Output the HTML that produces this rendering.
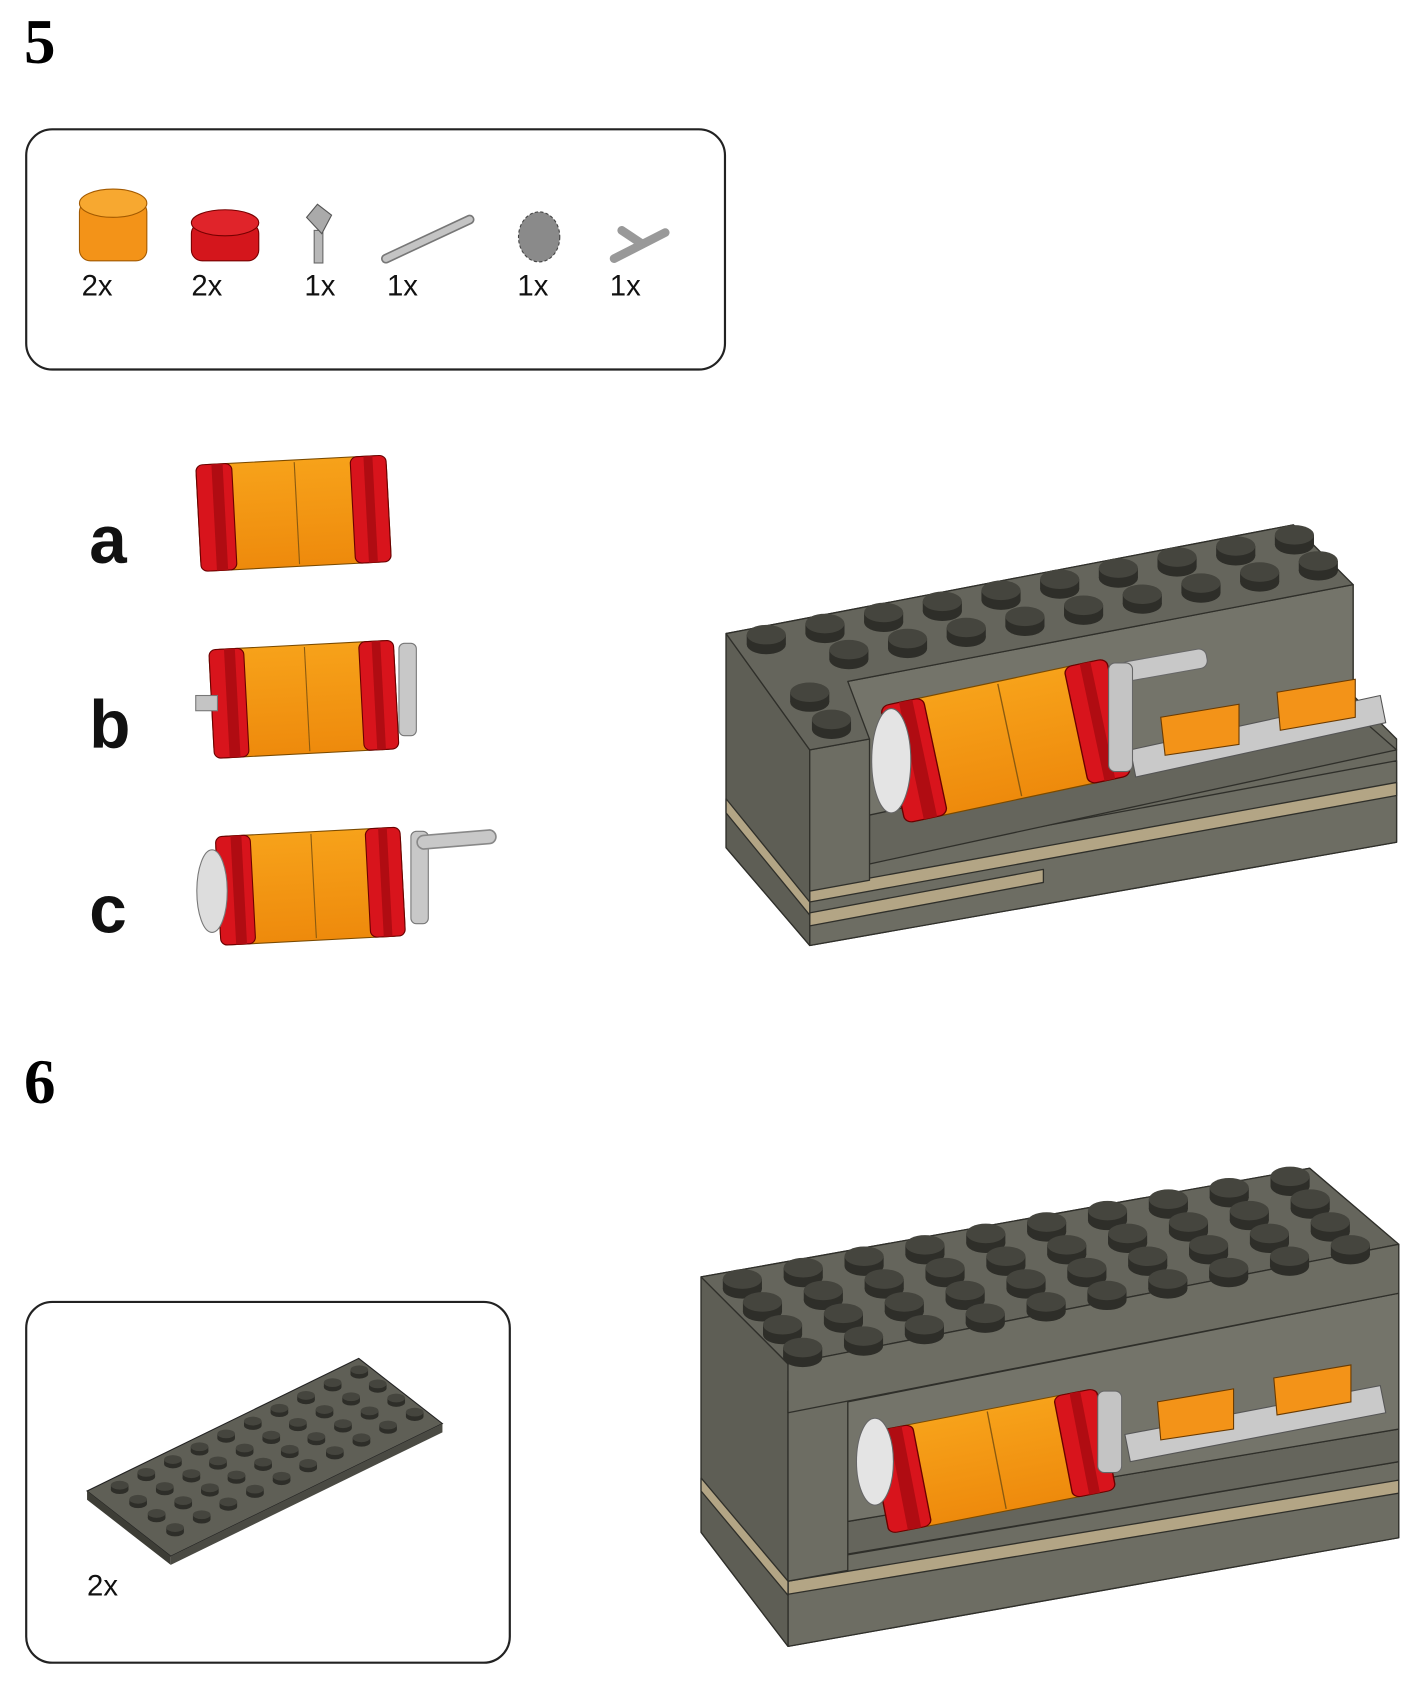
<!DOCTYPE html>
<html><head><meta charset="utf-8"><style>
html,body{margin:0;padding:0;background:#fff;}
svg{display:block}
</style></head><body>
<svg id="s" width="1413" height="1704" viewBox="0 0 1300 1568" xmlns="http://www.w3.org/2000/svg" font-family="Liberation Sans, sans-serif">
<defs>
<linearGradient id="org" x1="0" y1="0" x2="0" y2="1"><stop offset="0" stop-color="#f7a21a"/><stop offset="1" stop-color="#ee8a0c"/></linearGradient>
<g id="stud"><ellipse cx="0" cy="6" rx="18" ry="9" fill="#2e2e29"/><rect x="-18" y="-3" width="36" height="9" fill="#2e2e29"/><ellipse cx="0" cy="-3" rx="18" ry="9" fill="#45453e"/></g>
<g id="cyl">
<rect x="0" y="0" width="170" height="100" rx="10" fill="url(#org)" stroke="#7a4a00" stroke-width="1"/>
<line x1="88" y1="2" x2="88" y2="98" stroke="#8a5a10"/>
<rect x="0" y="0" width="32" height="100" rx="6" fill="#d8141c" stroke="#6a0000"/>
<rect x="138" y="0" width="32" height="100" rx="6" fill="#d8141c" stroke="#6a0000"/>
<rect x="14" y="0" width="10" height="100" fill="#b00c12"/>
<rect x="150" y="0" width="8" height="100" fill="#b00c12"/>
</g>
</defs>
<text x="22" y="58" font-family="Liberation Serif, serif" font-weight="bold" font-size="58">5</text>
<text x="22" y="1015" font-family="Liberation Serif, serif" font-weight="bold" font-size="58">6</text>

<rect x="24" y="119" width="643" height="221" rx="24" fill="none" stroke="#222" stroke-width="2"/>
<rect x="73" y="185" width="62" height="55" rx="10" fill="#f39318" stroke="#a35a00"/>
<ellipse cx="104" cy="187" rx="31" ry="13" fill="#f7a830" stroke="#a35a00"/>
<rect x="176" y="205" width="62" height="35" rx="10" fill="#d4161c" stroke="#700"/>
<ellipse cx="207" cy="205" rx="31" ry="12" fill="#e0242a" stroke="#700"/>
<rect x="289" y="212" width="8" height="30" fill="#b8b8b8" stroke="#666"/>
<path d="M282 200 L292 188 L305 198 L296 215 Z" fill="#aaa" stroke="#555"/>
<line x1="355" y1="238" x2="432" y2="202" stroke="#777" stroke-width="9" stroke-linecap="round"/>
<line x1="355" y1="238" x2="432" y2="202" stroke="#c4c4c4" stroke-width="6" stroke-linecap="round"/>
<ellipse cx="496" cy="218" rx="19" ry="23" fill="#8a8a8a" stroke="#444" stroke-dasharray="3 2"/>
<line x1="565" y1="238" x2="612" y2="214" stroke="#999" stroke-width="8" stroke-linecap="round"/>
<line x1="572" y1="212" x2="590" y2="224" stroke="#999" stroke-width="8" stroke-linecap="round"/>
<g font-size="27" fill="#111">
<text x="75" y="272">2x</text><text x="176" y="272">2x</text><text x="280" y="272">1x</text><text x="356" y="272">1x</text><text x="476" y="272">1x</text><text x="561" y="272">1x</text></g>

<g font-size="62" font-weight="bold" fill="#111"><text x="82" y="518">a</text><text x="82" y="688">b</text><text x="82" y="858">c</text></g>
<g transform="translate(180,428) rotate(-3)"><use href="#cyl" transform="scale(1.03,0.98)"/></g>
<g transform="translate(192,598) rotate(-3)"><use href="#cyl"/></g>
<rect x="180" y="640" width="20" height="14" fill="#c4c4c4" stroke="#777"/>
<rect x="367" y="592" width="16" height="85" rx="5" fill="#c8c8c8" stroke="#777"/>
<g transform="translate(198,770) rotate(-3)"><use href="#cyl"/></g>
<ellipse cx="195" cy="820" rx="14" ry="38" fill="#ddd" stroke="#777"/>
<rect x="378" y="765" width="16" height="85" rx="5" fill="#c8c8c8" stroke="#777"/>
<line x1="390" y1="775" x2="450" y2="770" stroke="#888" stroke-width="14" stroke-linecap="round"/>
<line x1="390" y1="775" x2="450" y2="770" stroke="#c8c8c8" stroke-width="11" stroke-linecap="round"/>

<!-- Model 1 -->
<g stroke="#2f2f2a" stroke-width="1.2" stroke-linejoin="round">
<polygon points="668,583 1190,483 1245,538 1245,640 1285,680 1285,775 745,870 668,780" fill="#6a6a60"/>
<polygon points="745,800 1285,700 1285,775 745,870" fill="#6d6d63"/>
<polygon points="745,818 1285,720 1285,732 745,830" fill="#b3a585"/>
<polygon points="745,840 960,800 960,812 745,852" fill="#b3a585"/>
<polygon points="800,745 1245,655 1285,690 800,795" fill="#65655c"/>
<polygon points="780,627 1245,538 1245,655 800,750" fill="#74746a"/>
<polygon points="668,583 745,690 745,870 668,780" fill="#5e5e55"/>
<polygon points="668,735 745,830 745,842 668,748" fill="#b3a585"/>
<polygon points="745,690 800,680 800,810 745,820" fill="#6d6d63"/>
<polygon points="668,583 1190,483 1245,538 780,627 800,680 745,690" fill="#65655c"/>
</g>
<g id="st1"></g>
<polygon points="1040,690 1270,640 1275,665 1045,715" fill="#c9c9c9" stroke="#555"/>
<polygon points="1068,660 1140,648 1140,685 1072,695" fill="#f39318" stroke="#6a3a00"/>
<polygon points="1175,637 1247,625 1247,660 1178,672" fill="#f39318" stroke="#6a3a00"/>
<g transform="translate(1030,610) rotate(-10)"><rect x="0" y="0" width="80" height="18" rx="7" fill="#c8c8c8" stroke="#666"/></g>
<g transform="translate(810,650) rotate(-12)"><use href="#cyl" transform="scale(1.25,1.1)"/></g>
<ellipse cx="820" cy="700" rx="18" ry="48" fill="#e4e4e4" stroke="#666"/>
<rect x="1020" y="610" width="22" height="100" rx="6" fill="#c4c4c4" stroke="#666"/>

<!-- Box 2 -->
<rect x="24" y="1198" width="445" height="332" rx="24" fill="none" stroke="#222" stroke-width="2"/>
<polygon points="80,1372 330,1250 407,1310 157,1432" fill="#5f5f56" stroke="#222"/>
<polygon points="80,1372 157,1432 157,1440 80,1380" fill="#3d3d36"/>
<polygon points="157,1432 407,1310 407,1318 157,1440" fill="#4a4a43"/>
<g id="st3"></g>
<text x="80" y="1468" font-size="27" fill="#111">2x</text>

<!-- Model 2 -->
<g stroke="#2f2f2a" stroke-width="1.2" stroke-linejoin="round">
<polygon points="645,1175 1205,1075 1287,1145 1287,1415 725,1515 645,1410" fill="#6a6a60"/>
<polygon points="725,1440 1287,1345 1287,1415 725,1515" fill="#6d6d63"/>
<polygon points="725,1455 1287,1362 1287,1374 725,1467" fill="#b3a585"/>
<polygon points="780,1400 1287,1315 1287,1345 780,1430" fill="#65655c"/>
<polygon points="780,1290 1287,1190 1287,1315 780,1400" fill="#74746a"/>
<polygon points="645,1175 725,1255 725,1515 645,1410" fill="#5e5e55"/>
<polygon points="645,1360 725,1455 725,1468 645,1372" fill="#b3a585"/>
<polygon points="725,1280 780,1270 780,1445 725,1455" fill="#6d6d63"/>
<polygon points="645,1175 1205,1075 1287,1145 725,1255" fill="#65655c"/>
<polygon points="725,1255 1287,1145 1287,1190 725,1300" fill="#6d6d63"/>
</g>
<g id="st2"></g>
<polygon points="1035,1320 1270,1275 1275,1300 1040,1345" fill="#c9c9c9" stroke="#555"/>
<polygon points="1065,1290 1135,1278 1135,1315 1068,1325" fill="#f39318" stroke="#6a3a00"/>
<polygon points="1172,1268 1243,1256 1243,1290 1175,1302" fill="#f39318" stroke="#6a3a00"/>
<g transform="translate(800,1318) rotate(-11)"><use href="#cyl" transform="scale(1.25,0.95)"/></g>
<ellipse cx="805" cy="1345" rx="17" ry="40" fill="#e4e4e4" stroke="#666"/>
<rect x="1010" y="1280" width="22" height="75" rx="6" fill="#c4c4c4" stroke="#666"/>
</svg>
<script>
function add(id,x,y,s){var g=document.getElementById(id);var u=document.createElementNS("http://www.w3.org/2000/svg","use");u.setAttribute("href","#stud");u.setAttribute("transform","translate("+x+","+y+") scale("+s+")");g.appendChild(u);}
for(var i=0;i<10;i++){add("st1",705+i*54,587-i*10.2,1);}
for(var i=1;i<10;i++){add("st1",727+i*54,611-i*10.2,1);}
add("st1",745,640,1);add("st1",765,665,1);
for(var r=0;r<4;r++)for(var i=0;i<10;i++){add("st2",683+r*18.5+i*56,1180+r*21-i*10.5,1);}
for(var r=0;r<4;r++)for(var i=0;i<10;i++){add("st3",110+r*17+i*24.5,1368+r*13-i*11.8,0.45);}
</script>
</body></html>
